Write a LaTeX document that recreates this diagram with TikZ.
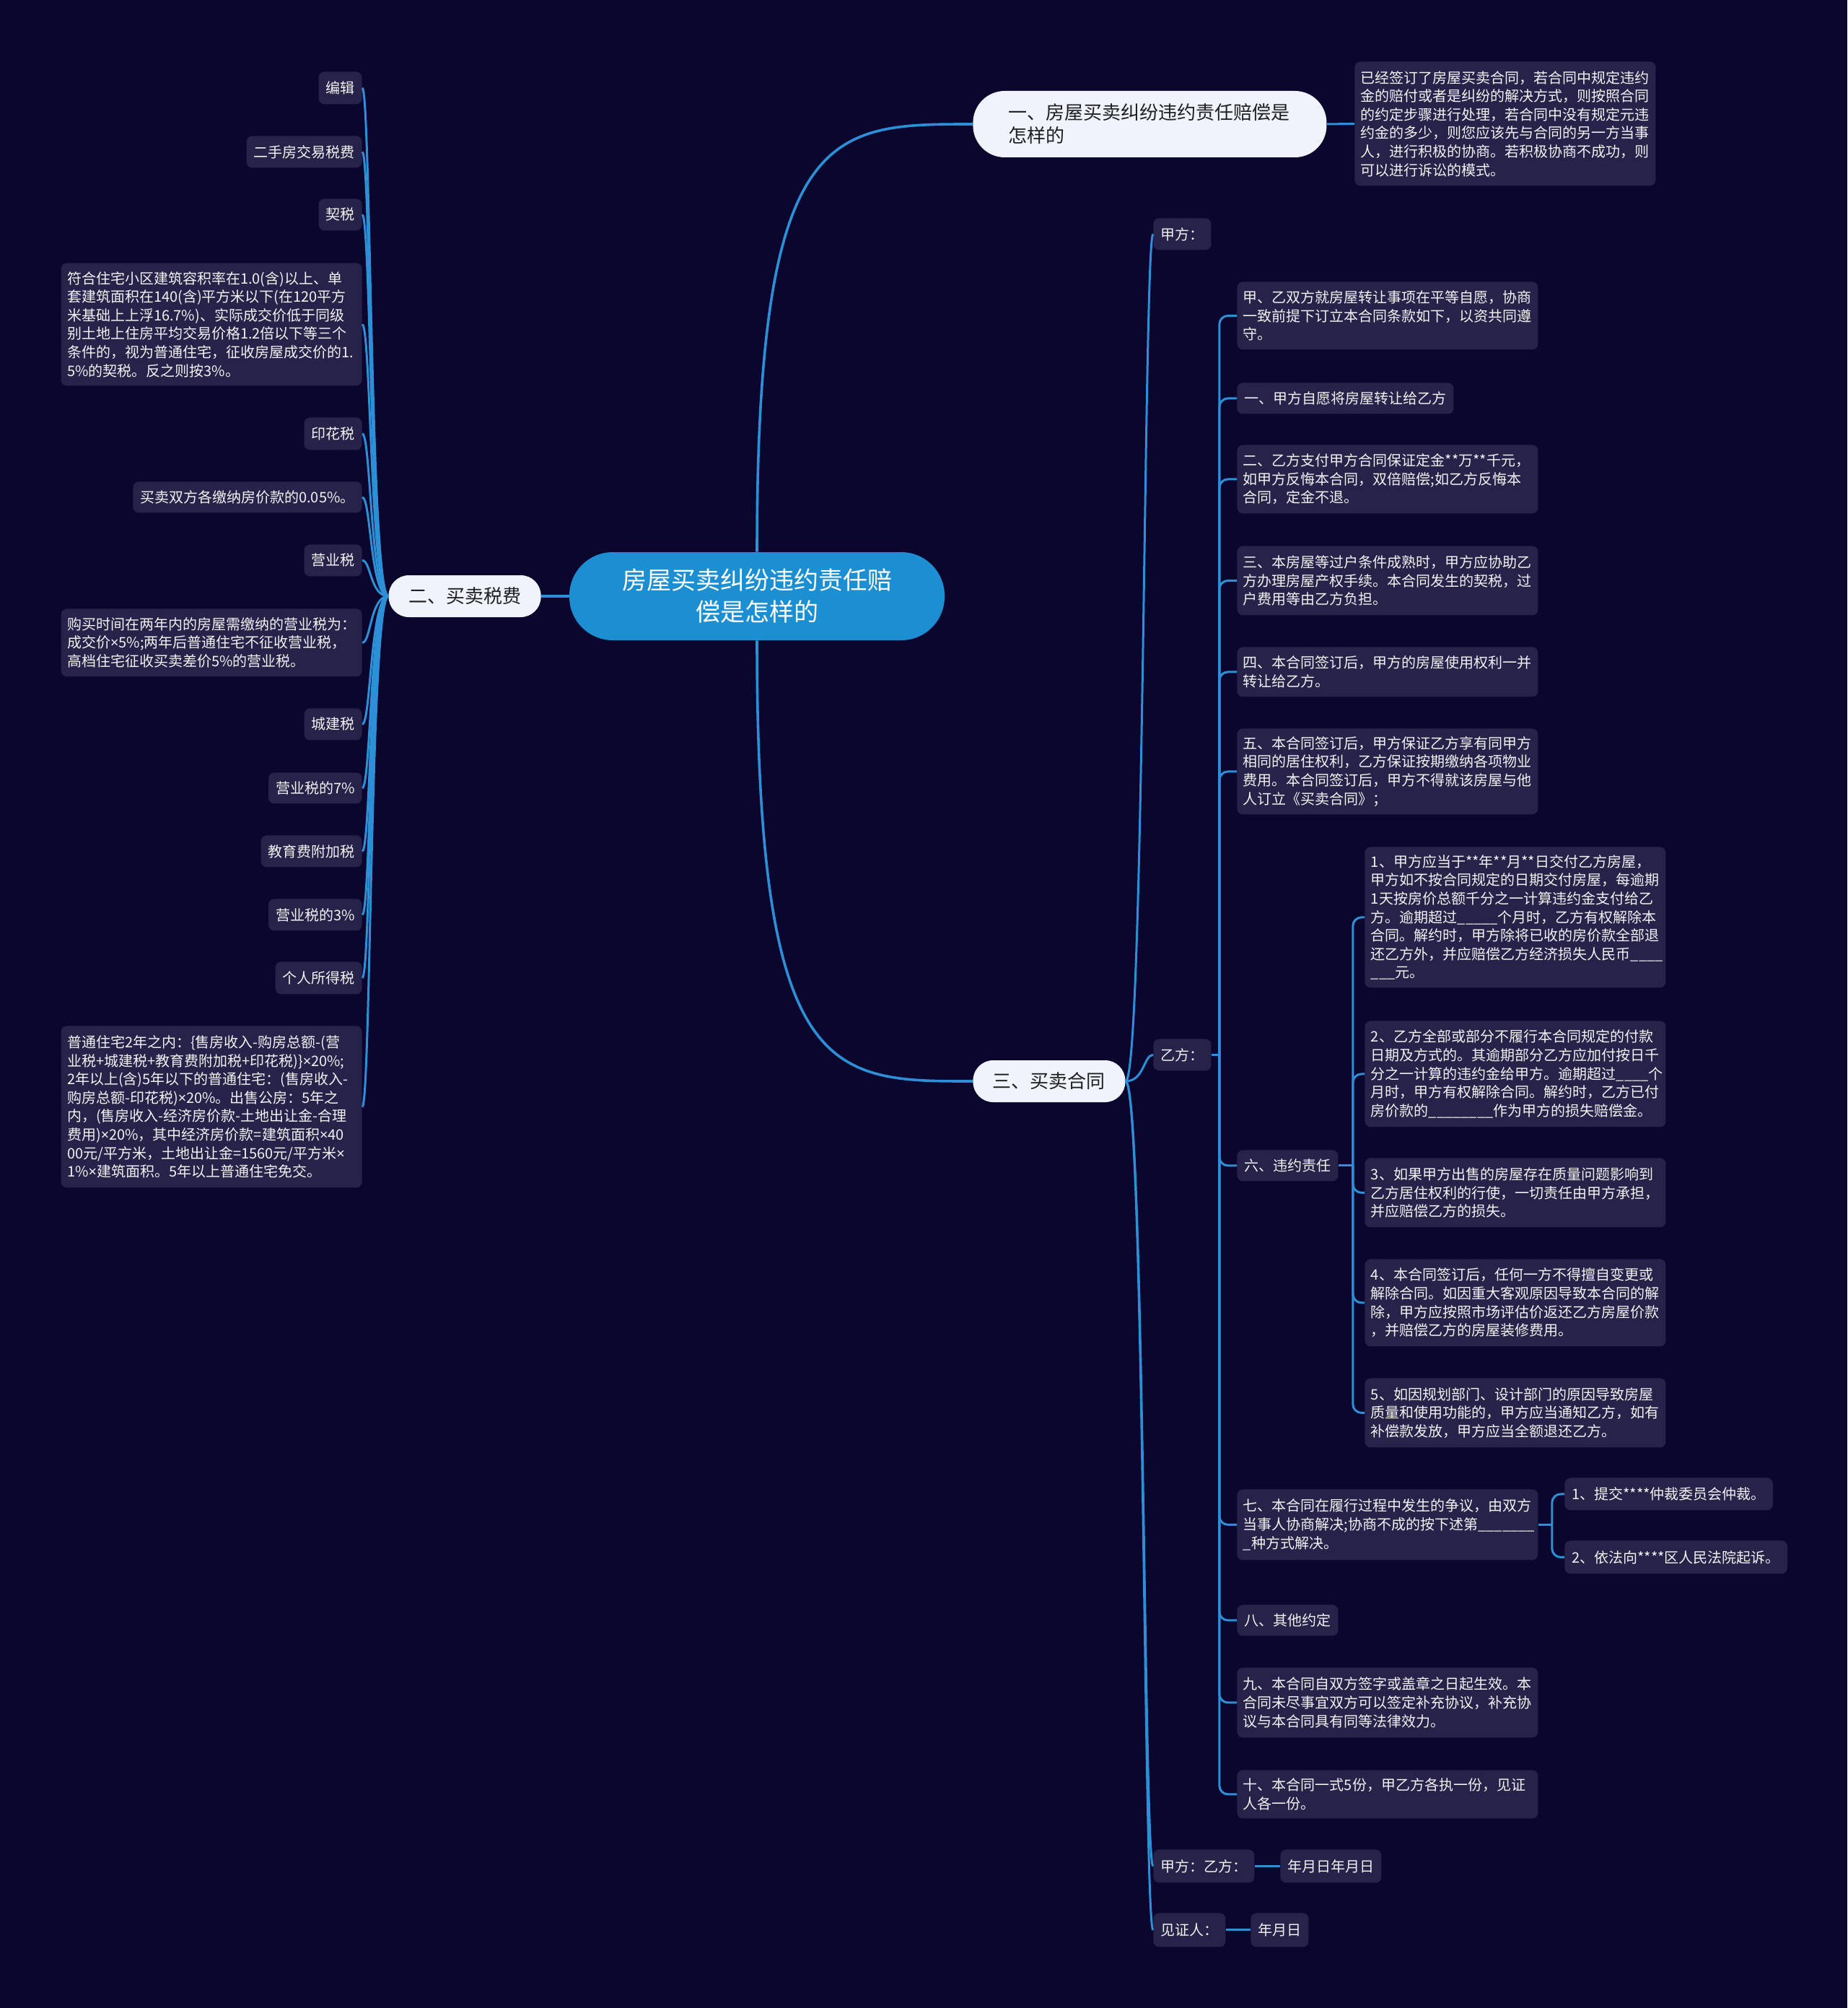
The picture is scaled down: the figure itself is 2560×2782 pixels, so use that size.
\documentclass[tikz,border=0pt]{standalone}
\usepackage{fontspec}
\setmainfont{Noto Sans CJK SC}
\newfontfamily\latf{Noto Sans}
\newcommand{\xx}{{\latf ×}}
\usetikzlibrary{calc}
\definecolor{bgc}{HTML}{0A062E}
\definecolor{leafc}{HTML}{262249}
\definecolor{connc}{HTML}{2D8FD6}
\definecolor{rootc}{HTML}{1B8FD2}
\definecolor{lvlc}{HTML}{EEF3FC}
\definecolor{txtc}{HTML}{F2F2F2}
\begin{document}
\begin{tikzpicture}[x=0.5pt,y=-0.5pt,
  leafbox/.style={fill=leafc, rounded corners=4pt, text=txtc, inner xsep=5pt, inner ysep=0pt, font=\fontsize{10}{12.8}\selectfont, align=left},
  widebox/.style={leafbox, text width=200pt, inner xsep=4.25pt},
  lvlbox/.style={fill=lvlc, text=black!88, inner sep=0pt, font=\fontsize{13}{16}\selectfont, align=left},
  rootbox/.style={fill=rootc, text=white, inner sep=0pt, font=\fontsize{17}{22}\selectfont, align=center},
  conn/.style={draw=connc, line width=1.5pt},
  mainconn/.style={draw=connc, line width=1.8pt},
  elbow/.style={conn, rounded corners=6pt},
]
\useasboundingbox (0,0) rectangle (2560,2782);
\fill[bgc] (0,0) rectangle (2560,2782);

% root and level 1
\node[rootbox, minimum width=260pt, minimum height=61pt, rounded corners=30pt] (root) at (1049,826) {房屋买卖纠纷违约责任赔\\偿是怎样的};
\node[lvlbox, anchor=west, minimum width=245pt, minimum height=46pt, rounded corners=22pt, text width=196pt] (b1) at (1348,172) {一、房屋买卖纠纷违约责任赔偿是\\怎样的};
\node[lvlbox, anchor=east, minimum width=105.5pt, minimum height=29pt, rounded corners=14pt] (b2) at (750,826) {二、买卖税费};
\node[lvlbox, anchor=west, minimum width=105.5pt, minimum height=29pt, rounded corners=14pt] (b3) at (1348,1498) {三、买卖合同};

% leaf of b1
\node[widebox, anchor=north west, minimum height=86pt] (b1l) at (1877,85) {已经签订了房屋买卖合同，若合同中规定违约\\金的赔付或者是纠纷的解决方式，则按照合同\\的约定步骤进行处理，若合同中没有规定元违\\约金的多少，则您应该先与合同的另一方当事\\人，进行积极的协商。若积极协商不成功，则\\可以进行诉讼的模式。};

% left leaves
\node[leafbox, anchor=north east, minimum height=22.5pt] (l1) at (502,99) {编辑};
\node[leafbox, anchor=north east, minimum height=22pt] (l2) at (502,188) {二手房交易税费};
\node[leafbox, anchor=north east, minimum height=22pt] (l3) at (502,275) {契税};
\node[widebox, anchor=north east, minimum height=85pt] (l4) at (502,364) {符合住宅小区建筑容积率在1.0(含)以上、单\\套建筑面积在140(含)平方米以下(在120平方\\米基础上上浮16.7\%)、实际成交价低于同级\\别土地上住房平均交易价格1.2倍以下等三个\\条件的，视为普通住宅，征收房屋成交价的1.\\5\%的契税。反之则按3\%。};
\node[leafbox, anchor=north east, minimum height=22.5pt] (l5) at (502,578) {印花税};
\node[leafbox, anchor=north east, minimum height=21.5pt] (l6) at (502,667) {买卖双方各缴纳房价款的0.05\%。};
\node[leafbox, anchor=north east, minimum height=22pt] (l7) at (502,754) {营业税};
\node[widebox, anchor=north east, minimum height=47pt] (l8) at (502,843) {购买时间在两年内的房屋需缴纳的营业税为：\\成交价\xx{}5\%;两年后普通住宅不征收营业税，\\高档住宅征收买卖差价5\%的营业税。};
\node[leafbox, anchor=north east, minimum height=22pt] (l9) at (502,981) {城建税};
\node[leafbox, anchor=north east, minimum height=21.5pt] (l10) at (502,1070) {营业税的7\%};
\node[leafbox, anchor=north east, minimum height=22pt] (l11) at (502,1157) {教育费附加税};
\node[leafbox, anchor=north east, minimum height=22pt] (l12) at (502,1245) {营业税的3\%};
\node[leafbox, anchor=north east, minimum height=22.5pt] (l13) at (502,1332) {个人所得税};
\node[widebox, anchor=north east, minimum height=112pt] (l14) at (502,1421) {普通住宅2年之内：\{售房收入-购房总额-(营\\业税+城建税+教育费附加税+印花税)\}\xx{}20\%;\\2年以上(含)5年以下的普通住宅：(售房收入-\\购房总额-印花税)\xx{}20\%。出售公房：5年之\\内，(售房收入-经济房价款-土地出让金-合理\\费用)\xx{}20\%，其中经济房价款=建筑面积\xx{}40\\00元/平方米，土地出让金=1560元/平方米\xx{}\\1\%\xx{}建筑面积。5年以上普通住宅免交。};

% children of b3
\node[leafbox, anchor=north west, minimum height=22pt] (jf) at (1598,302) {甲方：};
\node[leafbox, anchor=north west, minimum height=22pt] (yf) at (1598,1439) {乙方：};
\node[leafbox, anchor=north west, minimum height=23pt] (jy) at (1598,2562) {甲方：乙方：};
\node[leafbox, anchor=north west, minimum height=23.5pt] (jz) at (1598,2650) {见证人：};
\node[leafbox, anchor=north west, minimum height=23pt] (n1) at (1774,2562) {年月日年月日};
\node[leafbox, anchor=north west, minimum height=23.5pt] (n2) at (1733,2650) {年月日};

% children of yf
\node[widebox, anchor=north west, minimum height=47pt] (c0) at (1714,390) {甲、乙双方就房屋转让事项在平等自愿，协商\\一致前提下订立本合同条款如下，以资共同遵\\守。};
\node[leafbox, anchor=north west, minimum height=21.5pt] (c1) at (1714,530) {一、甲方自愿将房屋转让给乙方};
\node[widebox, anchor=north west, minimum height=47.5pt] (c2) at (1714,616) {二、乙方支付甲方合同保证定金**万**千元，\\如甲方反悔本合同，双倍赔偿;如乙方反悔本\\合同，定金不退。};
\node[widebox, anchor=north west, minimum height=48pt] (c3) at (1714,756) {三、本房屋等过户条件成熟时，甲方应协助乙\\方办理房屋产权手续。本合同发生的契税，过\\户费用等由乙方负担。};
\node[widebox, anchor=north west, minimum height=34.5pt] (c4) at (1714,896) {四、本合同签订后，甲方的房屋使用权利一并\\转让给乙方。};
\node[widebox, anchor=north west, minimum height=59.5pt] (c5) at (1714,1009) {五、本合同签订后，甲方保证乙方享有同甲方\\相同的居住权利，乙方保证按期缴纳各项物业\\费用。本合同签订后，甲方不得就该房屋与他\\人订立《买卖合同》；};
\node[leafbox, anchor=north west, minimum height=21.5pt] (c6) at (1714,1593) {六、违约责任};
\node[widebox, anchor=north west, minimum height=49pt] (c7) at (1714,2063) {七、本合同在履行过程中发生的争议，由双方\\当事人协商解决;协商不成的按下述第\_\_\_\_\_\_\_\\\_种方式解决。};
\node[leafbox, anchor=north west, minimum height=21.5pt] (c8) at (1714,2223) {八、其他约定};
\node[widebox, anchor=north west, minimum height=48.5pt] (c9) at (1714,2310) {九、本合同自双方签字或盖章之日起生效。本\\合同未尽事宜双方可以签定补充协议，补充协\\议与本合同具有同等法律效力。};
\node[widebox, anchor=north west, minimum height=33.5pt] (c10) at (1714,2452) {十、本合同一式5份，甲乙方各执一份，见证\\人各一份。};

% children of c6
\node[widebox, anchor=north west, minimum height=97.5pt] (d1) at (1891,1173) {1、甲方应当于**年**月**日交付乙方房屋，\\甲方如不按合同规定的日期交付房屋，每逾期\\1天按房价总额千分之一计算违约金支付给乙\\方。逾期超过\_\_\_\_\_个月时，乙方有权解除本\\合同。解约时，甲方除将已收的房价款全部退\\还乙方外，并应赔偿乙方经济损失人民币\_\_\_\_\\\_\_\_元。};
\node[widebox, anchor=north west, minimum height=73.5pt] (d2) at (1891,1414) {2、乙方全部或部分不履行本合同规定的付款\\日期及方式的。其逾期部分乙方应加付按日千\\分之一计算的违约金给甲方。逾期超过\_\_\_\_个\\月时，甲方有权解除合同。解约时，乙方已付\\房价款的\_\_\_\_\_\_\_\_作为甲方的损失赔偿金。};
\node[widebox, anchor=north west, minimum height=48pt] (d3) at (1891,1604) {3、如果甲方出售的房屋存在质量问题影响到\\乙方居住权利的行使，一切责任由甲方承担，\\并应赔偿乙方的损失。};
\node[widebox, anchor=north west, minimum height=60.5pt] (d4) at (1891,1744) {4、本合同签订后，任何一方不得擅自变更或\\解除合同。如因重大客观原因导致本合同的解\\除，甲方应按照市场评估价返还乙方房屋价款\\，并赔偿乙方的房屋装修费用。};
\node[widebox, anchor=north west, minimum height=48pt] (d5) at (1891,1909) {5、如因规划部门、设计部门的原因导致房屋\\质量和使用功能的，甲方应当通知乙方，如有\\补偿款发放，甲方应当全额退还乙方。};

% children of c7
\node[leafbox, anchor=north west, minimum height=22.5pt] (e1) at (2168,2047) {1、提交****仲裁委员会仲裁。};
\node[leafbox, anchor=north west, minimum height=23pt] (e2) at (2168,2134) {2、依法向****区人民法院起诉。};

% spine coordinates
\coordinate (ysp) at ([xshift=5.5pt]yf.east);
\coordinate (dsp) at ([xshift=10pt]c6.east);
\coordinate (esp) at ([xshift=9.5pt]c7.east);

% main connectors
\draw[mainconn] (root.west) -- (b2.east);
\draw[mainconn] (root.north) .. controls +(0,-593) and +(-198,0) .. (b1.west);
\draw[mainconn] (root.south) .. controls +(0,611) and +(-198,0) .. (b3.west);
\draw[conn] (b1.east) -- (b1l.west);

% left curves
\foreach \n in {l1,l2,l3,l4,l5,l6,l7,l8,l9,l10,l11,l12,l13,l14}
  \draw[conn] (b2.west) .. controls +(-25,0) and +(12,0) .. (\n.east);

% b3 curves
\foreach \n in {jf,yf,jy,jz}
  \draw[conn] (b3.east) .. controls +(26,0) and +(-13,0) .. (\n.west);

% yf elbows
\draw[conn] (yf.east) -- (ysp);
\foreach \n in {c0,c1,c2,c3,c4,c5,c6,c7,c8,c9,c10}
  \draw[elbow] (ysp) |- (\n.west);

% c6 elbows
\draw[conn] (c6.east) -- (dsp);
\foreach \n in {d1,d2,d3,d4,d5}
  \draw[elbow] (dsp) |- (\n.west);

% c7 elbows
\draw[conn] (c7.east) -- (esp);
\foreach \n in {e1,e2}
  \draw[elbow] (esp) |- (\n.west);

% dates
\draw[conn] (jy.east) -- (n1.west);
\draw[conn] (jz.east) -- (n2.west);
\end{tikzpicture}
\end{document}
